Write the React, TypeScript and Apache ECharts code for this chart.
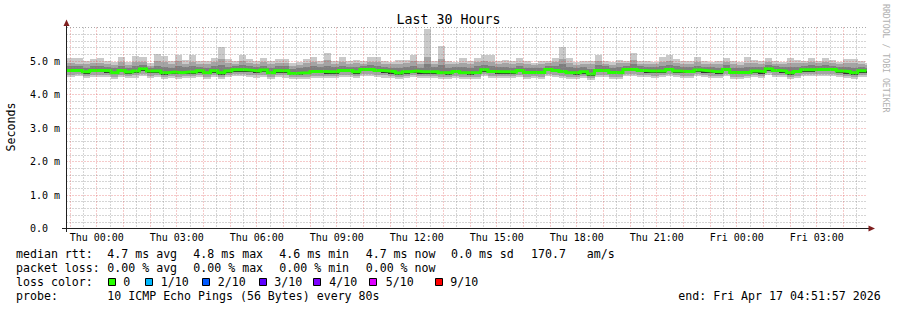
import React, { useEffect, useRef } from "react";
import * as echarts from "echarts";

// ---- data (minutes relative to Thu 00:00, values in ms) ----
const X_MIN = -68.05; // Wed 22:51:57
const X_MAX = 1731.95; // Fri 04:51:57
const FIRST_COLUMN_START = -80; // minutes
const COLUMN_STEP = 16; // minutes per consolidated step (960 s)

const TOP = [
  5.08, 5.08, 5.08, 5.01, 5.05,
  5.08, 5.0, 4.96, 5.13, 4.96, 5.16, 5.13, 4.93, 5.21, 5.16,
  5.0, 5.19, 5.02, 5.17, 5.0, 5.0, 5.1, 5.43, 5.05, 5.0,
  5.18, 5.05, 5.0, 5.08, 5.0, 5.05, 5.05, 4.93, 4.96, 5.05,
  5.12, 5.0, 5.25, 5.0, 5.12, 5.0, 5.04, 5.0, 5.12, 5.12,
  5.0, 4.98, 5.04, 5.04, 5.19, 5.0, 5.96, 5.0, 5.45, 5.0,
  4.98, 5.08, 5.0, 5.09, 5.19, 5.17, 5.0, 5.04, 5.0, 5.08,
  5.0, 4.93, 5.0, 5.0, 5.08, 5.43, 5.08, 4.96, 5.0, 5.0,
  5.17, 5.0, 4.96, 5.03, 5.0, 5.25, 5.0, 5.0, 4.98, 5.11,
  5.19, 5.05, 5.0, 5.0, 5.11, 5.0, 4.98, 5.0, 5.08, 5.0,
  4.98, 5.11, 5.03, 5.0, 5.08, 5.0, 4.98, 5.08, 5.03, 5.0,
  5.08, 5.0, 5.08, 5.03, 4.98, 5.05, 5.05, 5.0, 4.95,
];
const P9 = [
  4.95, 4.95, 4.92, 4.9, 4.93,
  4.95, 4.9, 4.88, 4.96, 4.88, 4.98, 4.97, 4.86, 4.99, 4.96,
  4.9, 5.0, 4.92, 4.98, 4.9, 4.91, 4.96, 5.05, 4.94, 4.92,
  5.0, 4.95, 4.92, 4.96, 4.9, 4.94, 4.93, 4.86, 4.88, 4.93,
  4.97, 4.92, 5.02, 4.91, 4.97, 4.91, 4.93, 4.92, 4.98, 4.97,
  4.91, 4.9, 4.92, 4.93, 4.99, 4.91, 5.12, 4.92, 5.06, 4.9,
  4.9, 4.95, 4.91, 4.96, 5.0, 4.98, 4.91, 4.93, 4.9, 4.95,
  4.91, 4.87, 4.91, 4.93, 4.96, 5.05, 4.95, 4.88, 4.91, 4.9,
  4.99, 4.92, 4.88, 4.93, 4.93, 5.03, 4.92, 4.91, 4.9, 4.97,
  5.0, 4.94, 4.91, 4.91, 4.97, 4.92, 4.9, 4.91, 4.96, 4.9,
  4.89, 4.95, 4.93, 4.91, 4.96, 4.92, 4.9, 4.94, 4.93, 4.93,
  4.96, 4.93, 4.96, 4.94, 4.9, 4.93, 4.93, 4.92, 4.88,
];
const P8 = [
  4.85, 4.85, 4.84, 4.8, 4.84,
  4.85, 4.82, 4.78, 4.86, 4.8, 4.85, 4.88, 4.8, 4.86, 4.82,
  4.8, 4.86, 4.81, 4.85, 4.83, 4.8, 4.85, 4.88, 4.83, 4.85,
  4.88, 4.85, 4.82, 4.86, 4.79, 4.84, 4.84, 4.76, 4.78, 4.81,
  4.85, 4.82, 4.86, 4.81, 4.86, 4.83, 4.82, 4.86, 4.88, 4.86,
  4.82, 4.8, 4.79, 4.82, 4.86, 4.8, 4.92, 4.81, 4.88, 4.79,
  4.82, 4.82, 4.79, 4.84, 4.88, 4.85, 4.81, 4.82, 4.8, 4.85,
  4.8, 4.78, 4.8, 4.86, 4.86, 4.9, 4.82, 4.78, 4.81, 4.77,
  4.87, 4.84, 4.79, 4.81, 4.86, 4.9, 4.84, 4.82, 4.81, 4.85,
  4.88, 4.84, 4.81, 4.81, 4.86, 4.83, 4.81, 4.8, 4.87, 4.8,
  4.79, 4.83, 4.83, 4.81, 4.88, 4.84, 4.82, 4.81, 4.82, 4.86,
  4.87, 4.86, 4.88, 4.86, 4.82, 4.81, 4.79, 4.83, 4.8,
];
const MEDIAN = [
  4.72, 4.72, 4.72, 4.68, 4.72,
  4.72, 4.71, 4.65, 4.72, 4.67, 4.7, 4.77, 4.7, 4.7, 4.65,
  4.67, 4.65, 4.67, 4.67, 4.71, 4.65, 4.71, 4.65, 4.7, 4.74,
  4.74, 4.72, 4.7, 4.73, 4.65, 4.71, 4.71, 4.63, 4.64, 4.65,
  4.69, 4.69, 4.68, 4.68, 4.72, 4.72, 4.68, 4.75, 4.75, 4.72,
  4.7, 4.68, 4.64, 4.68, 4.7, 4.68, 4.68, 4.68, 4.65, 4.65,
  4.69, 4.65, 4.65, 4.66, 4.74, 4.69, 4.68, 4.68, 4.67, 4.72,
  4.66, 4.66, 4.66, 4.75, 4.72, 4.69, 4.65, 4.65, 4.68, 4.61,
  4.72, 4.72, 4.66, 4.65, 4.75, 4.75, 4.72, 4.7, 4.7, 4.7,
  4.75, 4.7, 4.69, 4.69, 4.73, 4.71, 4.69, 4.68, 4.75, 4.66,
  4.66, 4.66, 4.7, 4.68, 4.77, 4.72, 4.7, 4.65, 4.69, 4.74,
  4.74, 4.75, 4.75, 4.75, 4.7, 4.68, 4.65, 4.71, 4.7,
];
const P4 = [
  4.66, 4.66, 4.67, 4.62, 4.66,
  4.66, 4.65, 4.6, 4.66, 4.61, 4.64, 4.7, 4.64, 4.65, 4.59,
  4.61, 4.6, 4.62, 4.61, 4.65, 4.6, 4.65, 4.59, 4.64, 4.68,
  4.68, 4.66, 4.64, 4.67, 4.6, 4.65, 4.65, 4.58, 4.59, 4.6,
  4.63, 4.63, 4.62, 4.62, 4.66, 4.66, 4.62, 4.69, 4.69, 4.66,
  4.64, 4.62, 4.59, 4.62, 4.64, 4.62, 4.62, 4.62, 4.6, 4.59,
  4.63, 4.6, 4.59, 4.6, 4.68, 4.63, 4.62, 4.62, 4.61, 4.66,
  4.6, 4.61, 4.6, 4.69, 4.66, 4.63, 4.6, 4.59, 4.62, 4.56,
  4.66, 4.66, 4.6, 4.6, 4.69, 4.69, 4.66, 4.64, 4.64, 4.64,
  4.69, 4.64, 4.63, 4.63, 4.67, 4.65, 4.63, 4.62, 4.69, 4.6,
  4.6, 4.61, 4.64, 4.62, 4.71, 4.66, 4.64, 4.59, 4.63, 4.68,
  4.68, 4.69, 4.69, 4.69, 4.64, 4.62, 4.59, 4.65, 4.64,
];
const P2 = [
  4.58, 4.58, 4.6, 4.55, 4.58,
  4.58, 4.57, 4.53, 4.59, 4.54, 4.57, 4.62, 4.56, 4.57, 4.52,
  4.54, 4.53, 4.55, 4.54, 4.58, 4.53, 4.57, 4.52, 4.57, 4.6,
  4.61, 4.58, 4.57, 4.59, 4.53, 4.58, 4.57, 4.51, 4.52, 4.53,
  4.56, 4.56, 4.55, 4.55, 4.59, 4.58, 4.55, 4.61, 4.62, 4.59,
  4.57, 4.55, 4.52, 4.55, 4.57, 4.55, 4.55, 4.54, 4.53, 4.52,
  4.56, 4.53, 4.52, 4.53, 4.61, 4.56, 4.55, 4.55, 4.54, 4.58,
  4.53, 4.54, 4.53, 4.61, 4.59, 4.56, 4.53, 4.52, 4.55, 4.5,
  4.58, 4.59, 4.53, 4.53, 4.61, 4.62, 4.59, 4.57, 4.56, 4.57,
  4.62, 4.57, 4.56, 4.56, 4.6, 4.58, 4.56, 4.55, 4.62, 4.53,
  4.53, 4.54, 4.57, 4.55, 4.63, 4.59, 4.57, 4.52, 4.56, 4.61,
  4.61, 4.62, 4.62, 4.61, 4.57, 4.55, 4.52, 4.58, 4.57,
];
const BOTTOM = [
  4.52, 4.53, 4.55, 4.49, 4.52,
  4.52, 4.51, 4.47, 4.53, 4.48, 4.5, 4.56, 4.49, 4.51, 4.46,
  4.48, 4.47, 4.49, 4.48, 4.52, 4.46, 4.51, 4.45, 4.51, 4.54,
  4.55, 4.52, 4.5, 4.53, 4.47, 4.52, 4.5, 4.45, 4.46, 4.47,
  4.5, 4.49, 4.48, 4.49, 4.53, 4.52, 4.48, 4.55, 4.55, 4.53,
  4.5, 4.49, 4.46, 4.49, 4.51, 4.49, 4.48, 4.48, 4.47, 4.46,
  4.5, 4.47, 4.46, 4.47, 4.55, 4.5, 4.49, 4.48, 4.48, 4.52,
  4.47, 4.48, 4.47, 4.55, 4.53, 4.5, 4.47, 4.46, 4.49, 4.44,
  4.52, 4.53, 4.47, 4.47, 4.55, 4.55, 4.53, 4.51, 4.5, 4.51,
  4.56, 4.51, 4.5, 4.5, 4.54, 4.52, 4.5, 4.49, 4.56, 4.47,
  4.47, 4.48, 4.51, 4.49, 4.57, 4.53, 4.51, 4.46, 4.5, 4.55,
  4.55, 4.56, 4.56, 4.55, 4.51, 4.49, 4.46, 4.52, 4.51,
];

const X_LABEL_MINUTES = [0, 180, 360, 540, 720, 900, 1080, 1260, 1440, 1620];
const X_LABELS = [
  "Thu 00:00", "Thu 03:00", "Thu 06:00", "Thu 09:00", "Thu 12:00",
  "Thu 15:00", "Thu 18:00", "Thu 21:00", "Fri 00:00", "Fri 03:00",
];
const Y_LABELS = ["0.0", "1.0 m", "2.0 m", "3.0 m", "4.0 m", "5.0 m"];

const LOSS_ITEMS = [
  { label: "0", color: "#26ff00" },
  { label: "1/10", color: "#00b8ff" },
  { label: "2/10", color: "#0059ff" },
  { label: "3/10", color: "#5e00ff" },
  { label: "4/10", color: "#7e00ff" },
  { label: "5/10", color: "#dd00ff" },
  { label: "9/10", color: "#ff0000" },
];

const MONO = '"DejaVu Sans Mono", monospace';
const GRID_COLOR = "rgba(143,143,143,0.75)";
const MGRID_COLOR = "rgba(222,79,79,0.6)";
const DASH = [1, 2];

function colStart(i: number) {
  return FIRST_COLUMN_START + COLUMN_STEP * i;
}

function buildOption() {
  const gridMinutes: number[] = [];
  for (let m = -60; m < X_MAX; m += 30) if (m > X_MIN) gridMinutes.push(m);

  const smokeData = TOP.map((t, i) => [colStart(i), t, P9[i], P8[i], MEDIAN[i], P4[i], P2[i], BOTTOM[i]]);
  const medianData: number[][] = MEDIAN.map((m, i) => [Math.max(colStart(i), X_MIN), m]);
  medianData.push([X_MAX, MEDIAN[MEDIAN.length - 1]]);

  const txt = (text: string, x: number, y: number, extra: any = {}) => ({
    type: "text",
    silent: true,
    z: 20,
    style: {
      text, x, y,
      font: `11.6px ${MONO}`,
      fill: "#000",
      textAlign: "left", textVerticalAlign: "middle",
      align: "left", verticalAlign: "middle",
      ...extra,
    },
  });

  const lossX = [108.5, 145.5, 202.5, 259.5, 313.5, 369.5, 435.5];
  const lossTextX = [123.3, 160.7, 217.7, 274.3, 329.3, 385.7, 450.3];

  const graphics: any[] = [
    txt("Last 30 Hours", 448.5, 19.5, { font: `13.3px ${MONO}`, textAlign: "center", align: "center" }),
    {
      type: "text", silent: true, z: 20, x: 11, y: 127, rotation: Math.PI / 2,
      style: { text: "Seconds", x: 0, y: 0, font: `11.6px ${MONO}`, fill: "#000",
        textAlign: "center", textVerticalAlign: "middle", align: "center", verticalAlign: "middle" },
    },
    {
      type: "text", silent: true, z: 20, x: 886, y: 4, rotation: -Math.PI / 2,
      style: { text: "RRDTOOL / TOBI OETIKER", x: 0, y: 0, font: `8.2px ${MONO}`, fill: "#b0b0b0",
        textAlign: "left", textVerticalAlign: "middle", align: "left", verticalAlign: "middle" },
    },
    { type: "line", silent: true, z: 15, shape: { x1: 67, y1: 27.5, x2: 866.5, y2: 27.5 },
      style: { stroke: GRID_COLOR, lineWidth: 1, lineDash: DASH } },
    { type: "line", silent: true, z: 16, shape: { x1: 66.5, y1: 232, x2: 66.5, y2: 24 },
      style: { stroke: "#1f1f1f", lineWidth: 1 } },
    { type: "line", silent: true, z: 16, shape: { x1: 62, y1: 228.5, x2: 870, y2: 228.5 },
      style: { stroke: "#1f1f1f", lineWidth: 1 } },
    { type: "polygon", silent: true, z: 17, shape: { points: [[63.5, 26], [69.5, 26], [66.5, 19.5]] },
      style: { fill: "#7f1f1f" } },
    { type: "polygon", silent: true, z: 17, shape: { points: [[868.5, 225.5], [868.5, 231.5], [875, 228.5]] },
      style: { fill: "#7f1f1f" } },
    txt("median rtt:", 16, 254.3),
    txt("4.7 ms avg", 107.3, 254.3),
    txt("4.8 ms max", 193.3, 254.3),
    txt("4.6 ms min", 279.3, 254.3),
    txt("4.7 ms now", 365.7, 254.3),
    txt("0.0 ms sd", 451, 254.3),
    txt("170.7", 531, 254.3),
    txt("am/s", 586.7, 254.3),
    txt("packet loss:", 16, 268.3),
    txt("0.00 % avg", 107.3, 268.3),
    txt("0.00 % max", 193.3, 268.3),
    txt("0.00 % min", 279.3, 268.3),
    txt("0.00 % now", 365.7, 268.3),
    txt("loss color:", 16, 282.3),
    txt("probe:", 16, 296.3),
    txt("10 ICMP Echo Pings (56 Bytes) every 80s", 107.3, 296.3),
    txt("end: Fri Apr 17 04:51:57 2026", 678.3, 296.3),
  ];
  LOSS_ITEMS.forEach((it, i) => {
    graphics.push({
      type: "rect", silent: true, z: 20,
      shape: { x: lossX[i], y: 278.5, width: 7, height: 7 },
      style: { fill: it.color, stroke: "#000", lineWidth: 1 },
    });
    graphics.push(txt(it.label, lossTextX[i], 282.3));
  });

  return {
    animation: false,
    backgroundColor: "#ffffff",
    grid: { left: 66.5, right: 30.5, top: 27.5, bottom: 81.5 },
    xAxis: {
      type: "value",
      min: X_MIN,
      max: X_MAX,
      z: 10,
      axisLine: { show: false },
      axisTick: { show: false, customValues: gridMinutes },
      axisLabel: {
        customValues: X_LABEL_MINUTES,
        margin: 4,
        fontFamily: MONO,
        fontSize: 10,
        color: "#000",
        formatter: (v: number) => {
          const idx = X_LABEL_MINUTES.findIndex((m) => Math.abs(m - v) < 1e-6);
          return idx >= 0 ? X_LABELS[idx] : "";
        },
      },
      splitLine: {
        show: true,
        lineStyle: { color: [MGRID_COLOR, GRID_COLOR], width: 1, type: DASH },
      },
    },
    yAxis: {
      type: "value",
      min: 0,
      max: 6,
      interval: 0.2,
      z: 10,
      axisLine: { show: false },
      axisTick: { show: false },
      axisLabel: {
        align: "left",
        margin: 36.5,
        fontFamily: MONO,
        fontSize: 10,
        color: "#000",
        formatter: (v: number) => {
          const r = Math.round(v);
          if (Math.abs(v - r) > 1e-6 || r >= Y_LABELS.length) return "";
          return Y_LABELS[r];
        },
      },
      splitLine: {
        show: true,
        showMaxLine: false,
        lineStyle: {
          color: [MGRID_COLOR, GRID_COLOR, GRID_COLOR, GRID_COLOR, GRID_COLOR],
          width: 1,
          type: DASH,
        },
      },
    },
    series: [
      {
        type: "custom",
        z: 2,
        silent: true,
        clip: true,
        encode: { x: 0, y: [1, 7] },
        data: smokeData,
        renderItem: (params: any, api: any) => {
          const s = api.value(0);
          const t0 = Math.max(s, X_MIN);
          const t1 = Math.min(s + COLUMN_STEP, X_MAX);
          const xa = Math.round(api.coord([t0, 0])[0]);
          const xb = Math.round(api.coord([t1, 0])[0]);
          const Y = (v: number) => Math.round(api.coord([t0, v])[1]);
          const band = (lo: number, hi: number, fill: string) => ({
            type: "rect",
            shape: { x: xa, y: Y(hi), width: xb - xa, height: Y(lo) - Y(hi) },
            style: { fill },
          });
          return {
            type: "group",
            children: [
              band(api.value(7), api.value(1), "#cacaca"),
              band(api.value(6), api.value(2), "#a4a4a4"),
              band(api.value(5), api.value(3), "#7e7e7e"),
              band(api.value(5), api.value(4), "#323232"),
            ],
          };
        },
      },
      {
        type: "line",
        z: 3,
        silent: true,
        step: "end",
        showSymbol: false,
        symbol: "none",
        data: medianData,
        lineStyle: { color: "#26ff00", width: 3, join: "miter", cap: "butt" },
      },
    ],
    graphic: graphics,
  };
}

export default function App() {
  const ref = useRef<HTMLDivElement>(null);
  useEffect(() => {
    if (!ref.current) return;
    const chart = echarts.init(ref.current, null, { renderer: "svg" });
    chart.setOption(buildOption() as any);
    return () => chart.dispose();
  }, []);
  return (
    <div
      ref={ref}
      style={{ position: "fixed", left: 0, top: 0, width: 897, height: 310, background: "#fff" }}
    />
  );
}
